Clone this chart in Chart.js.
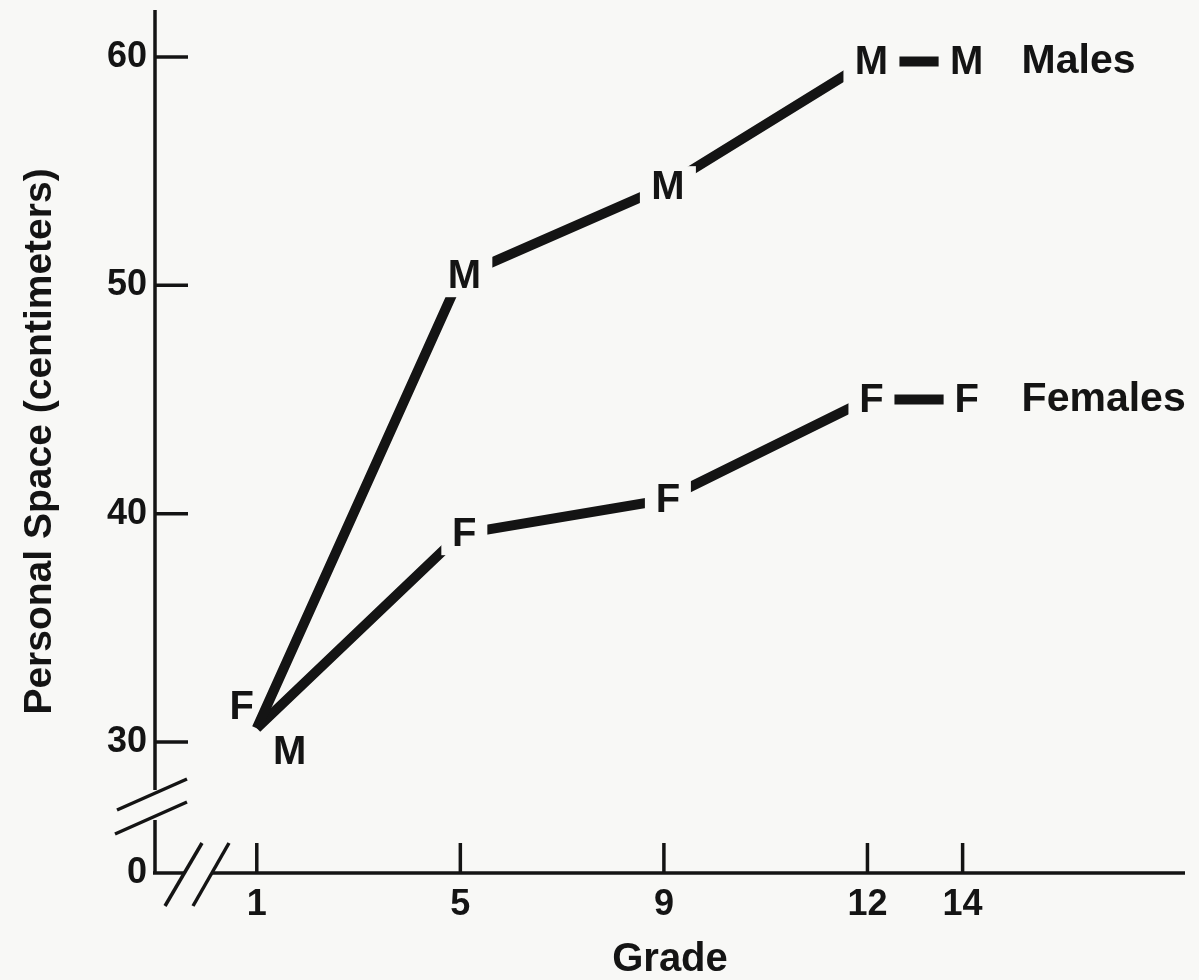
<!DOCTYPE html>
<html>
<head>
<meta charset="utf-8">
<script src="https://cdn.jsdelivr.net/npm/chart.js@4/dist/chart.umd.min.js"></script>
<style>
  body { margin: 0; background: #f8f8f6; }
  #wrap { width: 1199px; height: 980px; }
</style>
</head>
<body>
<div id="wrap"><canvas id="Space-Chart"></canvas></div>
<script>
const grades = ["1", "5", "9", "12", "14"];
const gradeSlots = [1, 5, 9, 13, 14.87]; // the grade axis is not evenly spaced
const seriesNames = ["Males", "Females"];
const seriesMarks = ["M", "F"];
const males = [30.6, 50.4, 54.3, 59.8, 59.8];
const females = [30.6, 39.1, 40.6, 45.0, 45.0];
const yTicks = [0, 30, 40, 50, 60];

const BG = "#f8f8f6";
const INK = "#141414";
const FONT = "'Liberation Sans', Arial, Helvetica, sans-serif";

function toPoints(values) {
  return values.map((v, i) => ({ x: gradeSlots[i], y: v }));
}

function line(ctx, x1, y1, x2, y2) {
  ctx.beginPath();
  ctx.moveTo(x1, y1);
  ctx.lineTo(x2, y2);
  ctx.stroke();
}

// axes with breaks + inward tick marks
const brokenAxes = {
  id: "brokenAxes",
  beforeDatasetsDraw(chart) {
    const ctx = chart.ctx;
    const { left, right, top, bottom } = chart.chartArea;
    const xs = chart.scales.x, ys = chart.scales.y;
    ctx.save();
    ctx.strokeStyle = INK;
    ctx.lineWidth = 3.5;
    ctx.lineCap = "butt";

    // y axis, broken near the bottom
    line(ctx, left, top, left, bottom - 83);
    line(ctx, left, bottom - 53, left, bottom);
    line(ctx, left - 38, bottom - 63, left + 32, bottom - 94);
    line(ctx, left - 40, bottom - 39, left + 32, bottom - 71);

    // x axis, broken near the origin
    line(ctx, left - 2, bottom, left + 29, bottom);
    line(ctx, left + 57, bottom, right, bottom);
    line(ctx, left + 10, bottom + 33, left + 47, bottom - 30);
    line(ctx, left + 38, bottom + 33, left + 74, bottom - 30);

    ys.ticks.forEach(t => {
      if (t.value <= ys.min) return;
      const y = ys.getPixelForValue(t.value);
      line(ctx, left, y, left + 33, y);
    });
    xs.ticks.forEach(t => {
      const x = xs.getPixelForValue(t.value);
      line(ctx, x, bottom, x, bottom - 30);
    });
    ctx.restore();
  }
};

// letter markers (M / F) that interrupt the lines, plus series names
const letterMarks = {
  id: "letterMarks",
  afterDatasetsDraw(chart) {
    const ctx = chart.ctx;
    ctx.save();
    ctx.textAlign = "center";
    ctx.textBaseline = "middle";
    chart.data.datasets.forEach((ds, di) => {
      const meta = chart.getDatasetMeta(di);
      const mark = seriesMarks[di];
      const halfW = mark === "M" ? 28 : 23;
      meta.data.forEach((pt, i) => {
        let x = pt.x + 4, y = pt.y;
        if (i === 0) {
          // both series start at the same spot, letters set beside it
          if (mark === "F") { x = pt.x - 15; y = pt.y - 21; }
          else { x = pt.x + 33; y = pt.y + 24; }
        } else {
          ctx.fillStyle = BG;
          ctx.fillRect(x - halfW, y - 21, halfW * 2, 42);
        }
        ctx.fillStyle = INK;
        ctx.font = "bold 40px " + FONT;
        ctx.fillText(mark, x, y + 1);
      });
      const last = meta.data[meta.data.length - 1];
      ctx.textAlign = "left";
      ctx.font = "bold 41px " + FONT;
      ctx.fillText(ds.label, last.x + 59, last.y);
      ctx.textAlign = "center";
    });
    ctx.restore();
  }
};

const data = {
  datasets: [
    {
      label: seriesNames[0],
      data: toPoints(males),
      borderColor: INK,
      borderWidth: 10,
      pointRadius: 0,
      tension: 0,
    },
    {
      label: seriesNames[1],
      data: toPoints(females),
      borderColor: INK,
      borderWidth: 10,
      pointRadius: 0,
      tension: 0,
    },
  ],
};

const config = {
  type: "line",
  data: data,
  plugins: [brokenAxes, letterMarks],
  options: {
    maintainAspectRatio: false,
    responsive: true,
    animation: false,
    layout: { padding: { top: 10, right: 14, left: 0, bottom: 0 } },
    plugins: {
      legend: { display: false },
      tooltip: { enabled: false },
    },
    scales: {
      x: {
        type: "linear",
        min: -1.0,
        max: 19.24,
        border: { display: false },
        grid: { display: false },
        afterBuildTicks: s => { s.ticks = gradeSlots.map(v => ({ value: v })); },
        afterFit: s => { s.height = 107; s.paddingLeft = 0; s.paddingRight = 0; },
        ticks: {
          color: INK,
          padding: 2,
          maxRotation: 0,
          font: { family: FONT, size: 36, weight: "bold" },
          callback: (v, i) => grades[i],
        },
        title: {
          display: true,
          text: "Grade",
          color: INK,
          padding: { top: 0, bottom: 0 },
          font: { family: FONT, size: 40, weight: "bold", lineHeight: 1.0 },
        },
      },
      y: {
        min: 24.26,
        max: 62.06,
        border: { display: false },
        grid: { display: false },
        afterBuildTicks: s => { s.ticks = yTicks.map(v => ({ value: Math.max(v, s.min) })); },
        afterFit: s => { s.width = 155; s.paddingTop = 0; s.paddingBottom = 0; },
        ticks: {
          color: INK,
          padding: 0,
          font: { family: FONT, size: 36, weight: "bold" },
          callback: (v, i) => yTicks[i],
        },
        title: {
          display: true,
          text: "Personal Space (centimeters)",
          color: INK,
          padding: { top: 21, bottom: 0 },
          font: { family: FONT, size: 39, weight: "bold", lineHeight: 1.0 },
        },
      },
    },
  },
};

let myChart = new Chart(document.getElementById("Space-Chart"), config);
</script>
</body>
</html>
